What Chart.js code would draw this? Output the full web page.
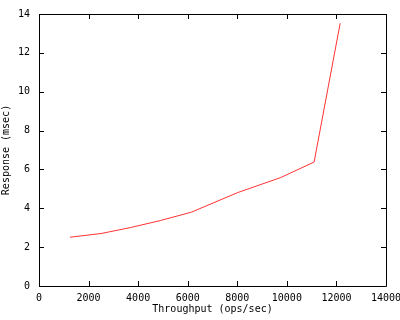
<!DOCTYPE html>
<html>
<head>
<meta charset="utf-8">
<script src="https://cdn.jsdelivr.net/npm/chart.js@4"></script>
<style>
  html, body { margin: 0; padding: 0; background: #fff; }
  #wrap { width: 400px; height: 320px; }
</style>
</head>
<body>
<div id="wrap"><canvas id="respChart" width="400" height="320"></canvas></div>
<script>
// values
const throughput = [1250, 2500, 3700, 4900, 6150, 8000, 9750, 11100, 12150];
const responseMs = [2.51, 2.70, 3.01, 3.37, 3.80, 4.80, 5.58, 6.38, 13.52];
const xTicks = [0, 2000, 4000, 6000, 8000, 10000, 12000, 14000];
const yTicks = [0, 2, 4, 6, 8, 10, 12, 14];

const monoFont = { family: 'DejaVu Sans Mono', size: 10 };

// gnuplot-like frame with inward ticks on all four sides
const framePlugin = {
    id: 'frame',
    afterDraw(chart) {
        const { ctx, chartArea: a, scales } = chart;
        const len = 5;
        ctx.save();
        ctx.strokeStyle = '#000';
        ctx.lineWidth = 1;
        ctx.beginPath();
        ctx.rect(a.left + 0.5, a.top + 0.5, a.right - a.left, a.bottom - a.top);
        xTicks.forEach(v => {
            const px = Math.round(scales.x.getPixelForValue(v)) + 0.5;
            ctx.moveTo(px, a.bottom); ctx.lineTo(px, a.bottom - len);
            ctx.moveTo(px, a.top); ctx.lineTo(px, a.top + len);
        });
        yTicks.forEach(v => {
            const py = Math.round(scales.y.getPixelForValue(v)) + 0.5;
            ctx.moveTo(a.left, py); ctx.lineTo(a.left + len, py);
            ctx.moveTo(a.right, py); ctx.lineTo(a.right - len, py);
        });
        ctx.stroke();
        ctx.restore();
    }
};

new Chart(document.getElementById('respChart'), {
    type: 'scatter',
    data: {
        datasets: [{
            data: throughput.map((x, i) => ({ x: x, y: responseMs[i] })),
            showLine: true,
            borderColor: 'rgb(255,50,50)',
            borderWidth: 1,
            pointRadius: 0,
            tension: 0
        }]
    },
    options: {
        responsive: false,
        animation: false,
        layout: { padding: { top: 14, right: 14, left: 0, bottom: 0 } },
        plugins: { legend: { display: false }, tooltip: { enabled: false } },
        scales: {
            x: {
                type: 'linear', min: 0, max: 14000,
                afterBuildTicks: s => { s.ticks = xTicks.map(v => ({ value: v })); },
                afterFit: s => { s.height = 34; s.paddingLeft = 0; s.paddingRight = 0; },
                grid: { display: false, drawTicks: false },
                border: { display: false },
                ticks: { font: monoFont, color: '#000', padding: 6, maxRotation: 0, autoSkip: false,
                         callback: v => String(v) },
                title: { display: true, text: 'Throughput (ops/sec)', font: monoFont, color: '#000', padding: { top: 0, bottom: 5 } }
            },
            y: {
                type: 'linear', min: 0, max: 14,
                afterBuildTicks: s => { s.ticks = yTicks.map(v => ({ value: v })); },
                afterFit: s => { s.width = 39; s.paddingTop = 0; s.paddingBottom = 0; },
                grid: { display: false, drawTicks: false },
                border: { display: false },
                ticks: { font: monoFont, color: '#000', padding: 9, autoSkip: false,
                         callback: v => String(v) },
                title: { display: true, text: 'Response (msec)', font: monoFont, color: '#000', padding: { top: 0, bottom: 0 } }
            }
        }
    },
    plugins: [framePlugin]
});
</script>
</body>
</html>
